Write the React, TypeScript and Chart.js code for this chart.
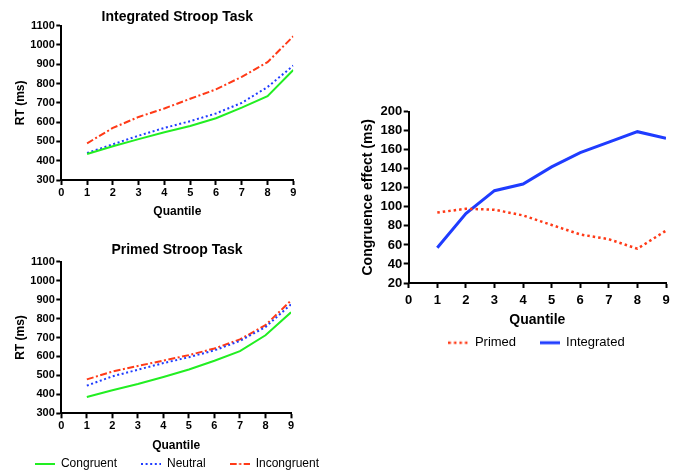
import React, { useEffect, useRef } from "react";
import { Chart, registerables } from "chart.js";

Chart.register(...registerables);

// ---------- data ----------
const quantiles = [1, 2, 3, 4, 5, 6, 7, 8, 9];
const xTicks = [0, 1, 2, 3, 4, 5, 6, 7, 8, 9];

const intCongruent = [435, 475, 512, 548, 580, 620, 675, 735, 870];
const intNeutral = [440, 485, 530, 570, 605, 645, 700, 782, 893];
const intIncongruent = [490, 570, 627, 671, 721, 770, 835, 911, 1045];

const primCongruent = [386, 422, 455, 492, 531, 577, 628, 712, 833];
const primNeutral = [446, 495, 530, 565, 596, 632, 682, 755, 875];
const primIncongruent = [479, 520, 550, 578, 607, 642, 690, 765, 895];

const effectPrimed = [94, 98, 97, 91, 81, 71, 66, 56, 75];
const effectIntegrated = [57, 93, 117, 124, 142, 157, 168, 179, 172];

const rtTicks = [300, 400, 500, 600, 700, 800, 900, 1000, 1100];
const effectTicks = [20, 40, 60, 80, 100, 120, 140, 160, 180, 200];

const GREEN = "#22ee22";
const BLUE = "#1f3cff";
const RED = "#ff3a17";
const FONT = "'Liberation Sans', Arial, Helvetica, sans-serif";

const pts = (vals: number[]) => quantiles.map((q, i) => ({ x: q, y: vals[i] }));

function fixWidth(w: number) {
  return (scale: any) => {
    scale.width = w;
  };
}
function fixHeight(h: number) {
  return (scale: any) => {
    scale.height = h;
  };
}

// small canvas holding a line sample with the dataset's dash pattern
function lineSample(color: string, width: number, dash: number[], len: number) {
  const c = document.createElement("canvas");
  c.width = len;
  c.height = 6;
  const ctx = c.getContext("2d")!;
  ctx.strokeStyle = color;
  ctx.lineWidth = width;
  ctx.setLineDash(dash);
  ctx.beginPath();
  ctx.moveTo(0, 3);
  ctx.lineTo(len, 3);
  ctx.stroke();
  return c;
}

type Panel = {
  datasets: any[];
  title?: string;
  yTitle: string;
  yTicks: number[];
  tickSize: number;
  axisTitleSize: number;
  yWidth: number;
  y2Width: number;
  xHeight: number;
  xTitlePadBottom: number;
  xTickPad: number;
  yTitlePadTop: number;
  titlePad?: { top: number; bottom: number };
  layoutPad: { left: number; right: number; top: number; bottom: number };
  legend?: { size: number; boxWidth: number; padding: number };
};

function buildConfig(p: Panel): any {
  const tickFont = { family: FONT, size: p.tickSize, weight: "bold" as const };
  const titleFont = { family: FONT, size: p.axisTitleSize, weight: "bold" as const };
  const legendCfg = p.legend;
  return {
    type: "line",
    data: { datasets: p.datasets },
    options: {
      animation: false,
      responsive: false,
      maintainAspectRatio: false,
      layout: { padding: p.layoutPad },
      elements: { point: { radius: 0 }, line: { tension: 0 } },
      plugins: {
        tooltip: { enabled: false },
        title: p.title
          ? {
              display: true,
              text: p.title,
              color: "#000",
              font: { family: FONT, size: 14, weight: "bold" },
              padding: p.titlePad,
            }
          : { display: false },
        legend: legendCfg
          ? {
              display: true,
              position: "bottom",
              labels: {
                color: "#000",
                font: { family: FONT, size: legendCfg.size },
                usePointStyle: true,
                pointStyleWidth: legendCfg.boxWidth,
                boxWidth: legendCfg.boxWidth,
                padding: legendCfg.padding,
                generateLabels: (chart: any) => {
                  const items = Chart.defaults.plugins.legend.labels.generateLabels(chart);
                  return items.map((it: any) => {
                    const ds = chart.data.datasets[it.datasetIndex];
                    return {
                      ...it,
                      pointStyle: lineSample(ds.borderColor, ds.borderWidth, ds.borderDash || [], legendCfg.boxWidth),
                    };
                  });
                },
              },
            }
          : { display: false },
      },
      scales: {
        x: {
          type: "linear",
          position: "bottom",
          min: xTicks[0],
          max: xTicks[xTicks.length - 1],
          afterBuildTicks: (scale: any) => {
            scale.ticks = xTicks.map((v) => ({ value: v }));
          },
          afterFit: fixHeight(p.xHeight),
          grid: {
            display: true,
            drawOnChartArea: false,
            drawTicks: true,
            tickLength: 5,
            tickWidth: 2,
            tickColor: "#000",
          },
          border: { display: true, color: "#000", width: 2 },
          ticks: {
            color: "#000",
            font: tickFont,
            padding: p.xTickPad,
            autoSkip: false,
            maxRotation: 0,
            callback: (v: any) => String(v),
          },
          title: {
            display: true,
            text: "Quantile",
            color: "#000",
            font: titleFont,
            padding: { top: 0, bottom: p.xTitlePadBottom },
          },
        },
        y: {
          type: "linear",
          position: "left",
          min: p.yTicks[0],
          max: p.yTicks[p.yTicks.length - 1],
          afterBuildTicks: (scale: any) => {
            scale.ticks = p.yTicks.map((v) => ({ value: v }));
          },
          afterFit: fixWidth(p.yWidth),
          grid: {
            display: true,
            drawOnChartArea: false,
            drawTicks: true,
            tickLength: 5,
            tickWidth: 2,
            tickColor: "#000",
          },
          border: { display: true, color: "#000", width: 2 },
          ticks: {
            color: "#000",
            font: tickFont,
            padding: 1.5,
            autoSkip: false,
            callback: (v: any) => String(v),
          },
          title: {
            display: true,
            text: p.yTitle,
            color: "#000",
            font: titleFont,
            padding: { top: p.yTitlePadTop, bottom: 0 },
          },
        },
        y2: {
          type: "linear",
          position: "right",
          display: true,
          afterFit: fixWidth(p.y2Width),
          grid: { display: false },
          border: { display: false },
          ticks: { display: false },
          title: { display: false },
        },
      },
    },
  };
}

const topPanel: Panel = {
  datasets: [
    { label: "Congruent", data: pts(intCongruent), borderColor: GREEN, backgroundColor: GREEN, borderWidth: 2 },
    { label: "Neutral", data: pts(intNeutral), borderColor: BLUE, backgroundColor: BLUE, borderWidth: 2, borderDash: [2, 2.6] },
    { label: "Incongruent", data: pts(intIncongruent), borderColor: RED, backgroundColor: RED, borderWidth: 2, borderDash: [7, 2.5, 2, 2.5] },
  ],
  title: "Integrated Stroop Task",
  yTitle: "RT (ms)",
  yTicks: rtTicks,
  tickSize: 11,
  axisTitleSize: 12,
  yWidth: 61.3,
  y2Width: 61.3,
  xHeight: 41.2,
  xTitlePadBottom: 2,
  xTickPad: 1.5,
  yTitlePadTop: 13.6,
  titlePad: { top: 8.5, bottom: 0.4 },
  layoutPad: { left: 0, right: 0.4, top: 0, bottom: 0.8 },
};

const bottomPanel: Panel = {
  datasets: [
    { label: "Congruent", data: pts(primCongruent), borderColor: GREEN, backgroundColor: GREEN, borderWidth: 2 },
    { label: "Neutral", data: pts(primNeutral), borderColor: BLUE, backgroundColor: BLUE, borderWidth: 2, borderDash: [2, 2.6] },
    { label: "Incongruent", data: pts(primIncongruent), borderColor: RED, backgroundColor: RED, borderWidth: 2, borderDash: [7, 2.5, 2, 2.5] },
  ],
  title: "Primed Stroop Task",
  yTitle: "RT (ms)",
  yTicks: rtTicks,
  tickSize: 11,
  axisTitleSize: 12,
  yWidth: 61.3,
  y2Width: 63,
  xHeight: 20.7,
  xTitlePadBottom: -18.5,
  xTickPad: 1.5,
  yTitlePadTop: 13.6,
  titlePad: { top: 12, bottom: 2.9 },
  layoutPad: { left: 0, right: 0, top: 0, bottom: 0 },
  legend: { size: 12, boxWidth: 20, padding: 24 },
};

const rightPanel: Panel = {
  datasets: [
    { label: "Primed", data: pts(effectPrimed), borderColor: RED, backgroundColor: RED, borderWidth: 2.5, borderDash: [2.5, 3] },
    { label: "Integrated", data: pts(effectIntegrated), borderColor: BLUE, backgroundColor: BLUE, borderWidth: 3 },
  ],
  yTitle: "Congruence effect (ms)",
  yTicks: effectTicks,
  tickSize: 13,
  axisTitleSize: 14,
  yWidth: 63.7,
  y2Width: 62,
  xHeight: 29.7,
  xTitlePadBottom: -15.7,
  xTickPad: 4.2,
  yTitlePadTop: 14.9,
  layoutPad: { left: 0, right: 0, top: 11.7, bottom: 0.8 },
  legend: { size: 13, boxWidth: 20, padding: 23.5 },
};

function ChartCanvas({ panel, left, top, width, height }: { panel: Panel; left: number; top: number; width: number; height: number }) {
  const ref = useRef<HTMLCanvasElement | null>(null);
  useEffect(() => {
    if (!ref.current) return;
    const chart = new Chart(ref.current, buildConfig(panel));
    return () => chart.destroy();
  }, [panel]);
  return (
    <div style={{ position: "absolute", left, top, width, height }}>
      <canvas ref={ref} width={width} height={height} style={{ width, height, display: "block" }} />
    </div>
  );
}

export default function App() {
  return (
    <div
      style={{
        position: "absolute",
        left: 0,
        top: 0,
        width: 679,
        height: 473,
        overflow: "hidden",
        background: "#fff",
      }}
    >
      <ChartCanvas panel={topPanel} left={0} top={0} width={355} height={222} />
      <ChartCanvas panel={bottomPanel} left={0} top={230} width={354} height={250} />
      <ChartCanvas panel={rightPanel} left={345} top={100} width={383} height={260} />
    </div>
  );
}
